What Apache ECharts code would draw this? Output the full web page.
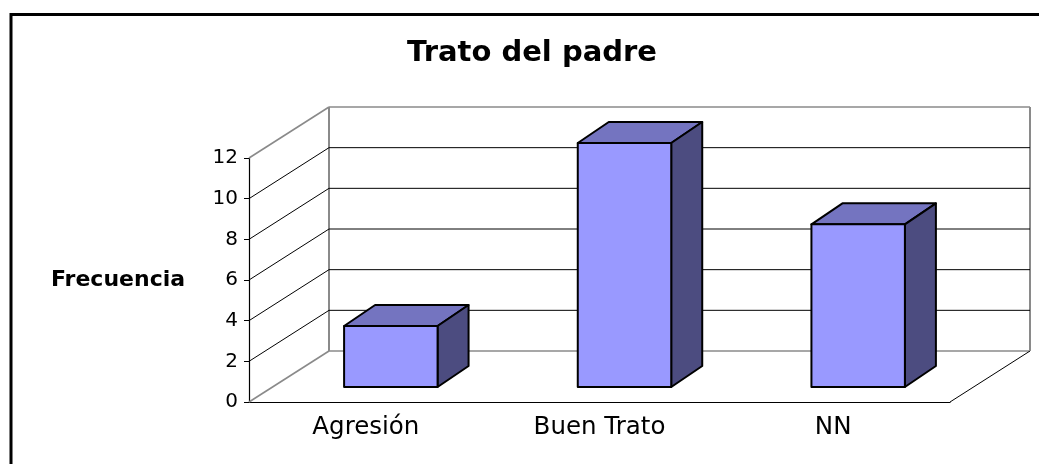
<!DOCTYPE html>
<html>
<head>
<meta charset="utf-8">
<script src="https://cdn.jsdelivr.net/npm/echarts@6/dist/echarts.min.js"></script>
<style>
  html, body { margin: 0; padding: 0; background: #fff; }
  #chart { width: 1039px; height: 464px; }
</style>
</head>
<body>
<div id="chart"></div>
<script>
const categories = ['Agresión', 'Buen Trato', 'NN'];
const frecuencia = [3, 12, 8];
const yTicks = [0, 2, 4, 6, 8, 10, 12];

// pseudo 3D offsets in px
const WALL = [80, -51];
const BAR_FRONT = [25, -15];
const BAR_DEPTH = [31, -21];
const BAR_RATIO = 0.4;

const chart = echarts.init(document.getElementById('chart'));

function line(x1, y1, x2, y2, color, width) {
  return {
    type: 'line',
    shape: { x1, y1, x2, y2 },
    style: { stroke: color, lineWidth: width || 1 }
  };
}

function renderWall(params, api) {
  const cs = params.coordSys;
  const v = api.value(1);
  const y = api.coord([0, v])[1];
  const left = cs.x;
  const right = cs.x + cs.width;
  const edge = v === 0 || v === 12;
  const color = edge ? '#8a8a8a' : '#000';
  const width = edge ? 1.6 : 1;
  const children = [
    line(left, y, left + WALL[0], y + WALL[1], color, width),
    line(left + WALL[0], y + WALL[1], right + WALL[0], y + WALL[1], color, width)
  ];
  if (v === 0) {
    const top = api.coord([0, 12])[1];
    children.push(line(right, y, right + WALL[0], y + WALL[1], '#000', 1));
    children.push(line(left + WALL[0], y + WALL[1], left + WALL[0], top + WALL[1], '#8a8a8a', 2));
    children.push(line(right + WALL[0], y + WALL[1], right + WALL[0], top + WALL[1], '#8a8a8a', 2));
  }
  return { type: 'group', children };
}

function renderBar(params, api) {
  const i = api.value(0);
  const top = api.coord([i, api.value(1)]);
  const base = api.coord([i, 0]);
  const w = api.size([1, 0])[0] * BAR_RATIO;
  const x0 = top[0] - w / 2 + BAR_FRONT[0];
  const x1 = x0 + w;
  const y0 = top[1] + BAR_FRONT[1];
  const y1 = base[1] + BAR_FRONT[1];
  const dx = BAR_DEPTH[0];
  const dy = BAR_DEPTH[1];
  const stroke = { stroke: '#000', lineWidth: 2, lineJoin: 'round' };
  return {
    type: 'group',
    children: [
      {
        type: 'polygon',
        shape: { points: [[x0, y0], [x1, y0], [x1 + dx, y0 + dy], [x0 + dx, y0 + dy]] },
        style: Object.assign({ fill: '#7474c0' }, stroke)
      },
      {
        type: 'polygon',
        shape: { points: [[x1, y0], [x1 + dx, y0 + dy], [x1 + dx, y1 + dy], [x1, y1]] },
        style: Object.assign({ fill: '#4c4c80' }, stroke)
      },
      {
        type: 'rect',
        shape: { x: x0, y: y0, width: w, height: y1 - y0 },
        style: Object.assign({ fill: '#9999ff' }, stroke)
      }
    ]
  };
}

chart.setOption({
  animation: false,
  grid: {
    left: 249,
    right: 89,
    top: 158,
    bottom: 62
  },
  graphic: [
    {
      type: 'rect',
      shape: { x: 11, y: 14.5, width: 1100, height: 500 },
      style: { fill: 'none', stroke: '#000', lineWidth: 3 },
      z: 100
    },
    {
      type: 'text',
      x: 532,
      y: 53,
      style: {
        text: 'Trato del padre',
        font: 'bold 29px "DejaVu Sans"',
        fill: '#000',
        align: 'center',
        verticalAlign: 'middle'
      }
    },
    {
      type: 'text',
      x: 118,
      y: 280,
      style: {
        text: 'Frecuencia',
        font: 'bold 22px "DejaVu Sans"',
        fill: '#000',
        align: 'center',
        verticalAlign: 'middle'
      }
    }
  ],
  xAxis: {
    type: 'category',
    data: categories,
    axisLine: { lineStyle: { color: '#000', width: 1.2 } },
    axisTick: { length: 6, lineStyle: { color: '#000' } },
    axisLabel: {
      margin: 13,
      color: '#000',
      fontFamily: 'DejaVu Sans',
      fontSize: 24.5
    }
  },
  yAxis: {
    type: 'value',
    min: 0,
    max: 12,
    interval: 2,
    axisLine: { show: true, lineStyle: { color: '#000', width: 1.2 } },
    axisTick: { show: true, length: 5, lineStyle: { color: '#000' } },
    splitLine: { show: false },
    axisLabel: {
      margin: 11,
      color: '#000',
      fontFamily: 'DejaVu Sans',
      fontSize: 20
    }
  },
  series: [
    {
      type: 'custom',
      renderItem: renderWall,
      data: yTicks.map((t) => [0, t]),
      z: 1,
      silent: true
    },
    {
      type: 'custom',
      renderItem: renderBar,
      data: frecuencia.map((v, i) => [i, v]),
      z: 3
    }
  ]
});

window.addEventListener('resize', () => {
  chart.resize();
});
</script>
</body>
</html>
